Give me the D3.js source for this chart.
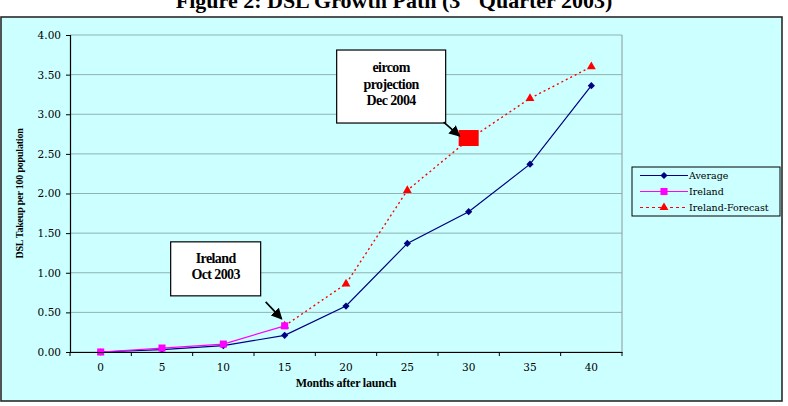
<!DOCTYPE html>
<html>
<head>
<meta charset="utf-8">
<script src="https://cdn.jsdelivr.net/npm/d3@7"></script>
<style>
  body { margin: 0; background: #fff; }
</style>
</head>
<body>
<div id="chart"></div>
<script>
// data
const months = ['0', '5', '10', '15', '20', '25', '30', '35', '40']
const average = [0.0, 0.03, 0.08, 0.21, 0.58, 1.37, 1.77, 2.37, 3.36]
const ireland = [0.0, 0.05, 0.1, 0.33]
const irelandForecast = [null, null, null, 0.33, 0.86, 2.04, 2.68, 3.2, 3.6]
const yTicks = [0, 0.5, 1, 1.5, 2, 2.5, 3, 3.5, 4]
const eircomProjection = { month: '30', value: 2.7 }
const irelandNow = { month: '15', value: 0.33 }
const seriesNames = ['Average', 'Ireland', 'Ireland-Forecast']

const width = 788
const height = 406
const margin = { top: 35, right: 166, bottom: 54, left: 70 }

const serif = '"Liberation Serif", "Times New Roman", serif'
const tickFont = '"DejaVu Serif", serif'

const svg = d3
  .select('#chart')
  .append('svg')
  .attr('width', width)
  .attr('height', height)
  .attr('viewBox', `0 0 ${width} ${height}`)

const defs = svg.append('defs')
defs
  .append('marker')
  .attr('id', 'arrow')
  .attr('viewBox', '0 0 10 10')
  .attr('refX', 9)
  .attr('refY', 5)
  .attr('markerWidth', 7)
  .attr('markerHeight', 7)
  .attr('markerUnits', 'strokeWidth')
  .attr('orient', 'auto')
  .append('path')
  .attr('d', 'M0,0L10,5L0,10z')
  .attr('fill', '#000')

// chart area
svg
  .append('rect')
  .attr('x', 1)
  .attr('y', 17)
  .attr('width', 781)
  .attr('height', 384)
  .attr('fill', '#ccffff')
  .attr('stroke', '#2a2a2a')
  .attr('stroke-width', 1.6)

// title (top of it is cut off like the original)
const title = svg
  .append('text')
  .attr('x', 394)
  .attr('y', 8)
  .attr('text-anchor', 'middle')
  .attr('font-family', serif)
  .attr('font-weight', 700)
  .attr('font-size', 22)
title.append('tspan').text('Figure 2: DSL Growth Path (3')
title.append('tspan').attr('font-size', 13).attr('dy', -9).text('rd')
title.append('tspan').attr('dy', 9).text(' Quarter 2003)')

const x = d3
  .scaleBand()
  .domain(months)
  .range([margin.left, width - margin.right])
  .padding(0)

const y = d3
  .scaleLinear()
  .domain([0, 4])
  .range([height - margin.bottom, margin.top])

const cx = (m) => x(m) + x.bandwidth() / 2

const plot = svg.append('g')

// gridlines
plot
  .selectAll('.grid')
  .data(yTicks)
  .join('line')
  .attr('class', 'grid')
  .attr('x1', margin.left)
  .attr('x2', width - margin.right)
  .attr('y1', (d) => y(d))
  .attr('y2', (d) => y(d))
  .attr('stroke', '#8fb3b3')
  .attr('stroke-width', 1)

// right border of plot
plot
  .append('line')
  .attr('x1', width - margin.right)
  .attr('x2', width - margin.right)
  .attr('y1', y(4))
  .attr('y2', y(0))
  .attr('stroke', '#8a9a9a')

// y axis
const yAxis = svg
  .append('g')
  .attr('transform', `translate(${margin.left},0)`)
  .call(
    d3
      .axisLeft(y)
      .tickValues(yTicks)
      .tickFormat(d3.format('.2f'))
      .tickSize(4)
      .tickPadding(5)
  )
yAxis.select('.domain').attr('stroke', '#000').attr('stroke-width', 1.2)
yAxis
  .selectAll('text')
  .attr('font-family', tickFont)
  .attr('font-size', 10.5)
  .attr('fill', '#000')

// x axis: categories centred between tick marks
const xAxis = svg
  .append('g')
  .attr('transform', `translate(0,${y(0)})`)
  .call(d3.axisBottom(x).tickSize(0).tickPadding(12).tickSizeOuter(0))
xAxis.select('.domain').attr('stroke', '#000').attr('stroke-width', 1.2)
xAxis
  .selectAll('text')
  .attr('font-family', tickFont)
  .attr('font-size', 10.5)
  .attr('fill', '#000')
xAxis
  .selectAll('.edge')
  .data(months.concat(['end']))
  .join('line')
  .attr('class', 'edge')
  .attr('x1', (d) => (d === 'end' ? x.range()[1] : x(d)))
  .attr('x2', (d) => (d === 'end' ? x.range()[1] : x(d)))
  .attr('y1', 0)
  .attr('y2', 4)
  .attr('stroke', '#000')

// axis titles
svg
  .append('text')
  .attr('x', (x.range()[0] + x.range()[1]) / 2)
  .attr('y', 387)
  .attr('text-anchor', 'middle')
  .attr('font-family', serif)
  .attr('font-weight', 700)
  .attr('font-size', 12)
  .attr('letter-spacing', -0.2)
  .text('Months after launch')

svg
  .append('text')
  .attr('transform', `translate(23,${(y(0) + y(4)) / 2}) rotate(-90)`)
  .attr('text-anchor', 'middle')
  .attr('font-family', serif)
  .attr('font-weight', 700)
  .attr('font-size', 10)
  .attr('letter-spacing', -0.2)
  .text('DSL Takeup per 100 population')

// lines
const line = d3
  .line()
  .defined((d) => d.v !== null)
  .x((d) => cx(d.m))
  .y((d) => y(d.v))

const avgPts = average.map((v, i) => ({ m: months[i], v }))
const irePts = ireland.map((v, i) => ({ m: months[i], v }))
const fcPts = irelandForecast.map((v, i) => ({ m: months[i], v }))

plot
  .append('path')
  .attr('d', line(fcPts))
  .attr('fill', 'none')
  .attr('stroke', '#ff0000')
  .attr('stroke-width', 1.4)
  .attr('stroke-dasharray', '2,3')

plot
  .append('path')
  .attr('d', line(avgPts))
  .attr('fill', 'none')
  .attr('stroke', '#000080')
  .attr('stroke-width', 1.2)

plot
  .append('path')
  .attr('d', line(irePts))
  .attr('fill', 'none')
  .attr('stroke', '#ff00ff')
  .attr('stroke-width', 1.2)

const diamond = d3.symbol().type(d3.symbolSquare).size(26)
const square = d3.symbol().type(d3.symbolSquare).size(50)
const triangle = d3.symbol().type(d3.symbolTriangle).size(34)

plot
  .selectAll('.fc')
  .data(fcPts.filter((d) => d.v !== null))
  .join('path')
  .attr('class', 'fc')
  .attr('d', triangle)
  .attr('transform', (d) => `translate(${cx(d.m)},${y(d.v)})`)
  .attr('fill', '#ff0000')

plot
  .selectAll('.avg')
  .data(avgPts)
  .join('path')
  .attr('class', 'avg')
  .attr('d', diamond)
  .attr('transform', (d) => `translate(${cx(d.m)},${y(d.v)}) rotate(45)`)
  .attr('fill', '#000080')

plot
  .selectAll('.ire')
  .data(irePts)
  .join('path')
  .attr('class', 'ire')
  .attr('d', square)
  .attr('transform', (d) => `translate(${cx(d.m)},${y(d.v)})`)
  .attr('fill', '#ff00ff')

// eircom projection marker
const ex = cx(eircomProjection.month)
const ey = y(eircomProjection.value)
plot
  .append('rect')
  .attr('x', ex - 10)
  .attr('y', ey - 8)
  .attr('width', 20)
  .attr('height', 16)
  .attr('fill', '#ff0000')

// callout boxes with arrows
function callout(px, py, box, arrow, lines) {
  const g = svg.append('g')
  g.append('rect')
    .attr('x', px + box[0])
    .attr('y', py + box[1])
    .attr('width', box[2])
    .attr('height', box[3])
    .attr('fill', '#fff')
    .attr('stroke', '#000')
    .attr('stroke-width', 1.2)
  g.append('line')
    .attr('x1', px + arrow[0])
    .attr('y1', py + arrow[1])
    .attr('x2', px + arrow[2])
    .attr('y2', py + arrow[3])
    .attr('stroke', '#000')
    .attr('stroke-width', 1.6)
    .attr('marker-end', 'url(#arrow)')
  const t = g
    .append('text')
    .attr('text-anchor', 'middle')
    .attr('font-family', serif)
    .attr('font-weight', 700)
    .attr('font-size', 14)
    .attr('letter-spacing', -0.6)
  lines.forEach((s, i) => {
    t.append('tspan')
      .attr('x', px + box[0] + box[2] / 2)
      .attr('y', py + box[1] + box[4] + i * 16.5)
      .text(s)
  })
}

callout(
  cx(irelandNow.month),
  y(irelandNow.value),
  [-114, -84, 90, 54, 21],
  [-19, -24, -3, -7],
  ['Ireland', 'Oct 2003']
)

callout(
  ex,
  ey,
  [-132, -88, 109, 73, 22],
  [-25, -16, -9, -2],
  ['eircom', 'projection', 'Dec 2004']
)

// legend
const legend = svg.append('g').attr('transform', 'translate(632,167)')
legend
  .append('rect')
  .attr('width', 148)
  .attr('height', 49)
  .attr('fill', '#ccffff')
  .attr('stroke', '#000')
  .attr('stroke-width', 1)

const legendRows = legend
  .selectAll('.row')
  .data(seriesNames)
  .join('g')
  .attr('class', 'row')
  .attr('transform', (d, i) => `translate(0,${8.5 + i * 16})`)

legendRows
  .append('line')
  .attr('x1', 8)
  .attr('x2', 56)
  .attr('stroke', (d, i) => ['#000080', '#ff00ff', '#ff0000'][i])
  .attr('stroke-width', 1.2)
  .attr('stroke-dasharray', (d, i) => (i === 2 ? '3,3' : null))

legendRows
  .append('path')
  .attr('d', (d, i) => [diamond, square, triangle][i]())
  .attr('transform', (d, i) => `translate(32,0)${i === 0 ? ' rotate(45)' : ''}`)
  .attr('fill', (d, i) => ['#000080', '#ff00ff', '#ff0000'][i])

legendRows
  .append('text')
  .attr('x', 57)
  .attr('y', 3.5)
  .attr('font-family', tickFont)
  .attr('font-size', 9.5)
  .attr('fill', '#000')
  .text((d) => d)
</script>
</body>
</html>
